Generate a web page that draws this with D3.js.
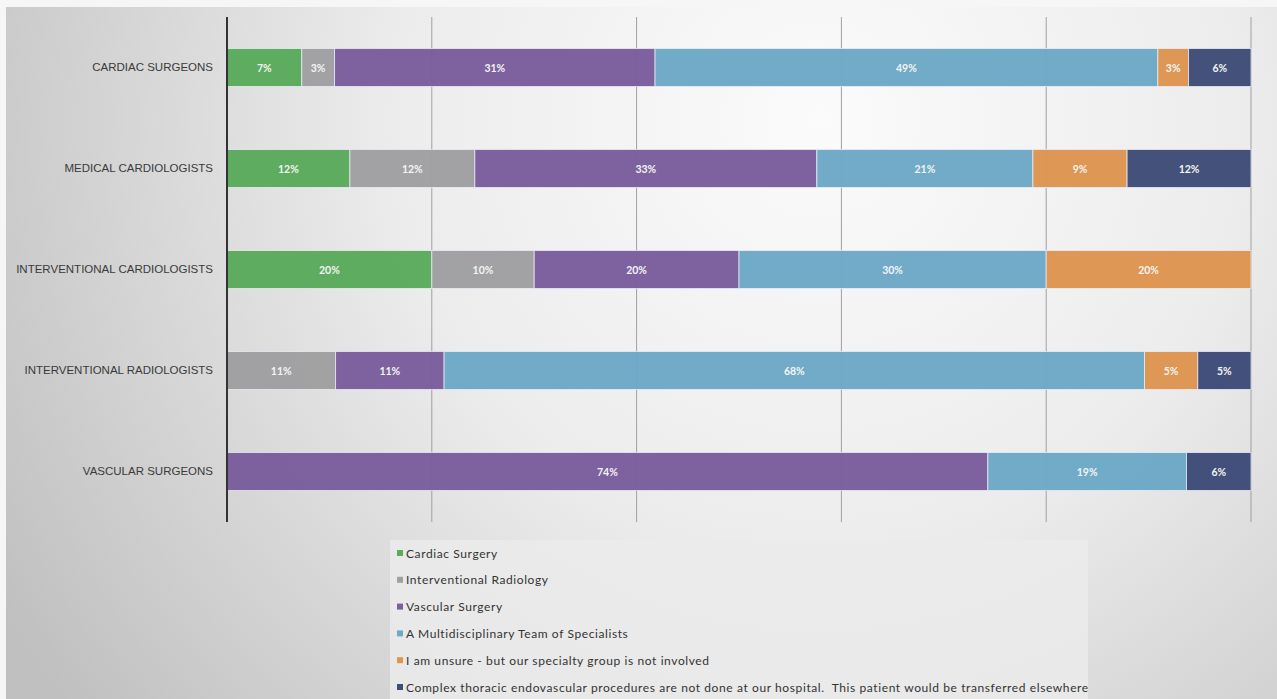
<!DOCTYPE html>
<html lang="en">
<head>
    <meta charset="UTF-8">
    <title>Stacked bars by specialty</title>
    <script src="https://d3js.org/d3.v7.min.js"></script>
    <style>
        body {
            margin: 0;
            background: #ffffff;
            font-family: Lato, 'Open Sans', sans-serif;
        }
        svg {
            display: block;
        }
        .cat-label {
            font-size: 11.5px;
            fill: #3a3a3a;
        }
        .bar-label {
            font-size: 10.5px;
            font-weight: bold;
            fill: #f4f4f4;
        }
        .legend-text {
            font-size: 12px;
            letter-spacing: 0.6px;
            fill: #333;
            white-space: pre;
        }
        .grid-line {
            stroke: #a0a0a0;
            stroke-width: 1;
        }
    </style>
</head>
<body>
<svg width="1277" height="699"></svg>
<script>
// --- data ---
const groups = [
    "CARDIAC SURGEONS",
    "MEDICAL CARDIOLOGISTS",
    "INTERVENTIONAL CARDIOLOGISTS",
    "INTERVENTIONAL RADIOLOGISTS",
    "VASCULAR SURGEONS"
];

const seriesNames = [
    "Cardiac Surgery",
    "Interventional Radiology",
    "Vascular Surgery",
    "A Multidisciplinary Team of Specialists",
    "I am unsure - but our specialty group is not involved",
    "Complex thoracic endovascular procedures are not done at our hospital.  This patient would be transferred elsewhere"
];

const seriesColors = ["#5aab5c", "#a0a0a2", "#7b5e9e", "#6ea9c7", "#de9550", "#3e4c78"];

// percentages per group, one array per series
const cardiacSurgery      = [7.3, 12.0, 20, 0, 0];
const interventionalRad   = [3.2, 12.2, 10, 10.6, 0];
const vascularSurgery     = [31.3, 33.4, 20, 10.6, 74.3];
const multidisciplinary   = [49.1, 21.1, 30, 68.4, 19.4];
const unsure              = [3.0, 9.2, 20, 5.2, 0];
const transferred         = [6.1, 12.1, 0, 5.2, 6.3];

const gridTicks = [0, 20, 40, 60, 80, 100];

// --- build ---
const seriesValues = [cardiacSurgery, interventionalRad, vascularSurgery, multidisciplinary, unsure, transferred];
const table = groups.map((g, gi) => {
    const row = { group: g };
    seriesNames.forEach((s, si) => { row[s] = seriesValues[si][gi]; });
    return row;
});

const svg = d3.select("svg");
const W = 1277, H = 699;

// background: photo-like slide gradient
const defs = svg.append("defs");
const rg = defs.append("radialGradient")
    .attr("id", "bg")
    .attr("gradientUnits", "userSpaceOnUse")
    .attr("cx", 820).attr("cy", 120).attr("r", 950);
rg.append("stop").attr("offset", "0%").attr("stop-color", "#fbfbfb");
rg.append("stop").attr("offset", "45%").attr("stop-color", "#ececec");
rg.append("stop").attr("offset", "100%").attr("stop-color", "#c0c0c0");

svg.append("rect").attr("width", W).attr("height", H).attr("fill", "#f6f6f6");
svg.append("rect")
    .attr("x", 6).attr("y", 7)
    .attr("width", W - 6).attr("height", H - 7)
    .attr("fill", "url(#bg)");

const x = d3.scaleLinear().domain([0, 100]).range([227, 1251]);
const y = d3.scaleBand().domain(groups).range([17, 522]).paddingInner(0.624).paddingOuter(0.312);
const color = d3.scaleOrdinal().domain(seriesNames).range(seriesColors);

// gridlines
svg.append("g")
    .selectAll("line")
    .data(gridTicks.slice(1))
    .join("line")
    .attr("class", "grid-line")
    .attr("x1", d => x(d)).attr("x2", d => x(d))
    .attr("y1", 17).attr("y2", 522);

// stacked bars
const stack = d3.stack().keys(seriesNames)(table);

const layers = svg.append("g")
    .selectAll("g")
    .data(stack)
    .join("g")
    .attr("fill", d => color(d.key));

layers.selectAll("rect")
    .data(d => d.filter(p => p[1] - p[0] > 0))
    .join("rect")
    .attr("x", d => x(d[0]))
    .attr("y", d => y(d.data.group))
    .attr("width", d => x(d[1]) - x(d[0]))
    .attr("height", y.bandwidth())
    .attr("opacity", 0.97)
    .attr("stroke", "rgba(235,240,250,0.75)")
    .attr("stroke-width", 1);

layers.selectAll("text")
    .data(d => d.filter(p => p[1] - p[0] > 0))
    .join("text")
    .attr("class", "bar-label")
    .attr("x", d => (x(d[0]) + x(d[1])) / 2)
    .attr("y", d => y(d.data.group) + y.bandwidth() / 2)
    .attr("text-anchor", "middle")
    .attr("dominant-baseline", "central")
    .text(d => Math.round(d[1] - d[0]) + "%");

// category axis
const yAxis = svg.append("g")
    .attr("transform", `translate(${x(0)},0)`)
    .call(d3.axisLeft(y).tickSize(0).tickPadding(14));
yAxis.select(".domain").remove();
yAxis.selectAll("text")
    .attr("class", "cat-label")
    .attr("font-family", null)
    .attr("font-size", null);

svg.append("line")
    .attr("x1", x(0)).attr("x2", x(0))
    .attr("y1", 17).attr("y2", 522)
    .attr("stroke", "#333")
    .attr("stroke-width", 2);

// legend
svg.append("rect")
    .attr("x", 390).attr("y", 540)
    .attr("width", 698).attr("height", 159)
    .attr("fill", "#ebebeb")
    .attr("opacity", 0.85);

const legend = svg.append("g")
    .selectAll("g")
    .data(seriesNames)
    .join("g")
    .attr("transform", (d, i) => `translate(397,${553 + i * 26.8})`);

legend.append("rect")
    .attr("x", 0).attr("y", -3)
    .attr("width", 6).attr("height", 6)
    .attr("fill", d => color(d));

legend.append("text")
    .attr("class", "legend-text")
    .attr("x", 9)
    .attr("dominant-baseline", "central")
    .text(d => d);
</script>
</body>
</html>
